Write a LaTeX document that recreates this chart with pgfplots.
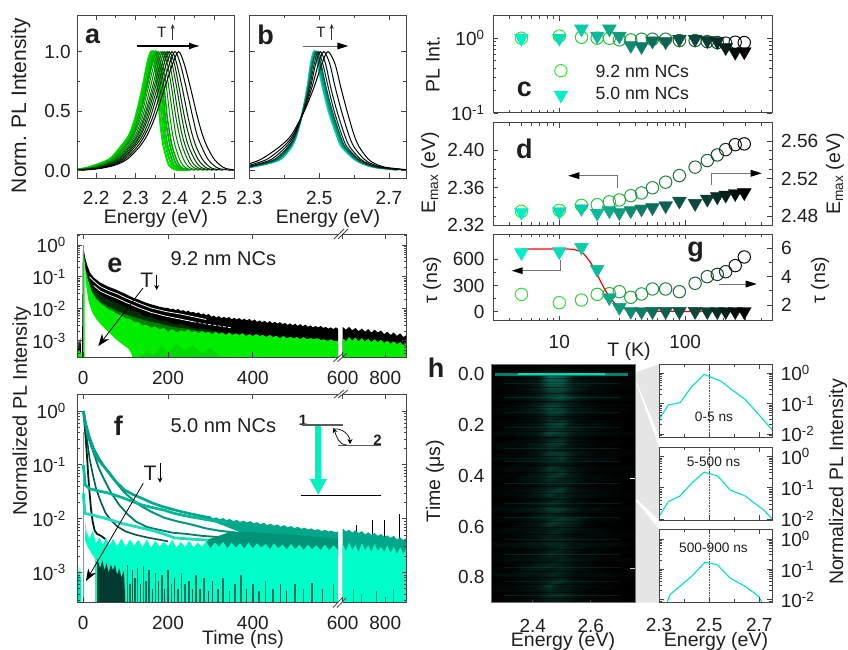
\documentclass[border=0pt]{standalone}
\usepackage{pgfplots}
\usepackage{pgfplotstable}
\usepackage{fontspec}
\setmainfont{Liberation Sans}
\pgfplotsset{compat=1.18}
\usetikzlibrary{arrows.meta}
\newcommand\fs[1]{\fontsize{#1}{#1}\selectfont}
\definecolor{frameC}{HTML}{444444}
\definecolor{txt}{HTML}{1E1E1E}
\definecolor{gA}{HTML}{00DC00}
\definecolor{tA}{HTML}{00D8B0}
\definecolor{aqua}{HTML}{00FFC8}
\definecolor{gk0}{RGB}{50,232,50}\definecolor{gk1}{RGB}{46,222,52}\definecolor{gk2}{RGB}{43,211,55}\definecolor{gk3}{RGB}{40,200,57}
\definecolor{gk4}{RGB}{36,190,60}\definecolor{gk5}{RGB}{35,177,60}\definecolor{gk6}{RGB}{33,165,60}\definecolor{gk7}{RGB}{32,152,60}
\definecolor{gk8}{RGB}{30,140,60}\definecolor{gk9}{RGB}{29,128,57}\definecolor{gk10}{RGB}{27,115,55}\definecolor{gk11}{RGB}{26,102,52}
\definecolor{gk12}{RGB}{25,90,50}\definecolor{gk13}{RGB}{19,68,38}\definecolor{gk14}{RGB}{13,45,25}\definecolor{gk15}{RGB}{6,22,12}\definecolor{gk16}{RGB}{0,0,0}
\definecolor{tk0}{RGB}{0,240,200}\definecolor{tk1}{RGB}{4,222,184}\definecolor{tk2}{RGB}{7,205,168}\definecolor{tk3}{RGB}{11,187,151}
\definecolor{tk4}{RGB}{15,170,135}\definecolor{tk5}{RGB}{15,155,124}\definecolor{tk6}{RGB}{15,140,112}\definecolor{tk7}{RGB}{15,125,101}
\definecolor{tk8}{RGB}{15,110,90}\definecolor{tk9}{RGB}{14,97,80}\definecolor{tk10}{RGB}{12,85,70}\definecolor{tk11}{RGB}{11,72,60}
\definecolor{tk12}{RGB}{10,60,50}\definecolor{tk13}{RGB}{8,45,38}\definecolor{tk14}{RGB}{5,30,25}\definecolor{tk15}{RGB}{3,15,12}\definecolor{tk16}{RGB}{0,0,0}
\newcommand\ee[1]{10\textsuperscript{#1}}
\pgfplotsset{
 baseAx/.style={scale only axis, anchor=south west,
  axis line style={color=frameC,line width=1pt},
  every tick/.style={color=frameC,line width=.8pt},
  major tick length=5pt, minor tick length=3pt, tick align=inside,
  tick label style={font=\fs{19},text=txt},
  xticklabel style={yshift=-10pt}, yticklabel style={xshift=-3pt},
  axis on top},
 tempAx/.style={xmin=3,xmax=490,xtick={10,100},
  minor xtick={4,5,6,7,8,9,20,30,40,50,60,70,80,90,200,300,400},xticklabels={}},
 decayAx/.style={ytick={1,.1,.01,.001},log origin y=infty,
  minor ytick={.0003,.0004,.0005,.0006,.0007,.0008,.0009,.002,.003,.004,.005,.006,.007,.008,.009,.02,.03,.04,.05,.06,.07,.08,.09,.2,.3,.4,.5,.6,.7,.8,.9,2}},
 insetAx/.style={baseAx,xmin=2.3,xmax=2.752,xtick={2.3,2.5,2.7},minor xtick={2.4,2.6},
  ytick={1,.1,.01},yticklabels={\ee{0},\ee{-1},\ee{-2}},
  minor ytick={.008,.009,.02,.03,.04,.05,.06,.07,.08,.09,.2,.3,.4,.5,.6,.7,.8,.9,2},
  yticklabel pos=right,yticklabel style={xshift=8pt},
  width=113.3pt,height=73pt},
 colormap={hm}{rgb255=(0,0,0) rgb255=(2,14,12) rgb255=(4,30,25) rgb255=(8,70,56) rgb255=(12,115,92)},
}
\pgfplotstableread{
T i cI cE cTau tI tE tTau
5 0 1 2.335 2.75 1 2.484 676
10 1 1.07 2.336 2.16 1 2.4846 688
15 2 1.03 2.3413 2.35 1.33 2.488 737
20 3 1 2.342 2.75 1.07 2.483 485
25 4 1 2.345 2.8 1.33 2.4857 160
30 5 .95 2.347 2.94 1.07 2.4836 50
37 6 .95 2.3516 2.54 .8 2.4857 5
45 7 .97 2.3545 2.78 .775 2.4875 2
55 8 .97 2.36 3.13 .92 2.489 3
70 9 .97 2.366 3.13 .9 2.491 3
90 10 .93 2.373 2.94 .97 2.496 3
120 11 .93 2.382 3.53 .97 2.4935 3
150 12 .9 2.389 4 .93 2.498 2
180 13 .875 2.395 4.16 .9 2.5006 2
210 14 .86 2.4007 4.35 .75 2.5024 2
250 15 .885 2.406 4.78 .65 2.504 2
295 16 .875 2.4068 5.39 .66 2.505 2
}\tData
\pgfplotstableread{
y c1 c2 c3 c4 c5 c6 c7 c8 c9 c10 c11 c12 c13 c14
.005 2.130 2.132 2.133 2.135 2.136 2.138 2.141 2.143 2.145 2.147 2.150 2.153 2.156 2.160
.02 2.170 2.172 2.174 2.176 2.178 2.181 2.184 2.187 2.190 2.193 2.196 2.200 2.205 2.210
.05 2.200 2.203 2.205 2.208 2.210 2.214 2.218 2.222 2.225 2.229 2.233 2.238 2.244 2.250
.10 2.235 2.237 2.240 2.242 2.244 2.247 2.251 2.254 2.258 2.261 2.265 2.269 2.274 2.280
.20 2.262 2.264 2.267 2.269 2.272 2.275 2.279 2.283 2.286 2.290 2.294 2.298 2.304 2.310
.30 2.284 2.286 2.289 2.291 2.293 2.296 2.300 2.304 2.307 2.311 2.314 2.319 2.324 2.330
.45 2.300 2.303 2.305 2.308 2.310 2.314 2.318 2.322 2.325 2.329 2.333 2.338 2.344 2.350
.70 2.318 2.321 2.324 2.327 2.329 2.333 2.338 2.343 2.347 2.351 2.356 2.361 2.368 2.375
.90 2.330 2.333 2.337 2.340 2.343 2.348 2.353 2.358 2.363 2.368 2.373 2.379 2.387 2.395
1.0 2.340 2.344 2.347 2.351 2.354 2.359 2.365 2.370 2.375 2.381 2.386 2.393 2.401 2.410
.90 2.349 2.353 2.357 2.360 2.364 2.369 2.375 2.381 2.387 2.393 2.399 2.405 2.414 2.424
.70 2.356 2.360 2.364 2.369 2.373 2.379 2.385 2.392 2.398 2.405 2.411 2.419 2.429 2.440
.45 2.362 2.367 2.372 2.376 2.381 2.388 2.396 2.403 2.410 2.418 2.425 2.434 2.446 2.458
.30 2.367 2.372 2.377 2.383 2.388 2.395 2.403 2.412 2.419 2.427 2.436 2.445 2.457 2.471
.20 2.372 2.378 2.383 2.389 2.394 2.402 2.411 2.420 2.428 2.436 2.445 2.455 2.469 2.483
.10 2.380 2.386 2.392 2.398 2.404 2.412 2.422 2.432 2.440 2.450 2.459 2.470 2.484 2.500
.05 2.385 2.392 2.398 2.405 2.411 2.420 2.431 2.441 2.450 2.460 2.471 2.483 2.498 2.515
.02 2.395 2.402 2.409 2.415 2.422 2.431 2.442 2.453 2.463 2.473 2.484 2.496 2.512 2.530
.005 2.410 2.418 2.425 2.433 2.440 2.451 2.463 2.475 2.485 2.497 2.509 2.523 2.541 2.560
}\tA
\pgfplotstableread{
y c1 c2 c3 c4 c5 c6 c7 c8 c9
.01 2.270 2.269 2.267 2.266 2.264 2.261 2.257 2.249 2.240
.03 2.300 2.299 2.297 2.296 2.294 2.291 2.287 2.279 2.270
.06 2.350 2.348 2.345 2.343 2.340 2.335 2.328 2.315 2.300
.1 2.390 2.387 2.385 2.382 2.379 2.374 2.365 2.352 2.335
.2 2.420 2.418 2.417 2.415 2.413 2.410 2.404 2.396 2.385
.3 2.435 2.434 2.434 2.433 2.432 2.431 2.428 2.425 2.420
.5 2.453 2.453 2.453 2.454 2.454 2.454 2.455 2.456 2.457
.7 2.466 2.467 2.468 2.469 2.470 2.472 2.475 2.479 2.485
.9 2.476 2.478 2.479 2.481 2.482 2.486 2.490 2.498 2.508
1 2.485 2.487 2.489 2.491 2.493 2.497 2.503 2.513 2.525
.9 2.495 2.498 2.500 2.503 2.505 2.510 2.518 2.530 2.545
.7 2.510 2.513 2.515 2.518 2.520 2.526 2.533 2.546 2.562
.5 2.527 2.530 2.532 2.535 2.538 2.543 2.551 2.564 2.580
.3 2.550 2.553 2.555 2.558 2.560 2.565 2.573 2.585 2.600
.2 2.565 2.568 2.570 2.573 2.575 2.580 2.588 2.600 2.615
.1 2.600 2.602 2.604 2.606 2.608 2.612 2.618 2.628 2.640
.06 2.625 2.627 2.629 2.630 2.632 2.636 2.641 2.650 2.660
.03 2.660 2.662 2.663 2.665 2.666 2.669 2.674 2.681 2.690
.01 2.720 2.722 2.723 2.725 2.726 2.729 2.734 2.741 2.750
}\tB
\newcommand\cva[3]{\addplot[smooth,line width=#3pt,color=gA!#2!black] table[x=c#1,y=y]{\tA};}
\newcommand\cvb[3]{\addplot[smooth,line width=#3pt,color=tA!#2!black] table[x=c#1,y=y]{\tB};}
\newcommand\flab[3]{\node[font=\fs{#3},text=txt] at (#1,#2)}
\newcommand\circs[1]{\pgfplotsinvokeforeach{0,...,16}{\addplot[only marks,mark=o,mark size=6.2pt,line width=1pt,color=gk##1,restrict expr to domain={\thisrow{i}}{##1:##1}] table[x=T,y=#1]{\tData};}}
\newcommand\tris[1]{\pgfplotsinvokeforeach{0,...,16}{\addplot[only marks,mark=triangle*,mark size=8pt,mark options={rotate=180},color=tk##1,restrict expr to domain={\thisrow{i}}{##1:##1}] table[x=T,y=#1]{\tData};}}
\begin{document}
\begin{tikzpicture}[x=1pt,y=-1pt]
\useasboundingbox (0,0) rectangle (848,650);
% connectors
\fill[black!10] (635.7,372.3)--(659,364.3)--(659,436)--(635.7,380)--cycle;
\fill[black!10] (635.7,382)--(659,447)--(659,520)--(635.7,498)--cycle;
\fill[black!10] (635.7,501)--(659,529)--(659,602.7)--(635.7,602.7)--cycle;
% a
\begin{axis}[baseAx,at={(77.3pt,-178pt)},width=156.7pt,height=162.5pt,xmin=2.152,xmax=2.551,ymin=-.06,ymax=1.303,
 xtick={2.2,2.3,2.4,2.5},xticklabels={2.2,2.3,2.4,2.5},minor x tick num=1,
 ytick={0,.5,1},yticklabels={0.0,0.5,1.0},minor y tick num=1]
\cva{1}{100}{2}\cva{2}{95}{2}\cva{3}{90}{2}\cva{4}{82}{1.8}\cva{5}{74}{1.5}\cva{6}{64}{1}\cva{7}{55}{1}
\cva{8}{47}{1}\cva{9}{40}{1}\cva{10}{32}{1}\cva{11}{25}{1}\cva{12}{15}{1}\cva{13}{8}{1}\cva{14}{0}{1}
\end{axis}
% b
\begin{axis}[baseAx,at={(249.5pt,-178pt)},width=156.5pt,height=162.5pt,xmin=2.3,xmax=2.749,ymin=-.06,ymax=1.303,
 xtick={2.3,2.5,2.7},xticklabels={2.3,2.5,2.7},minor x tick num=1,
 ytick={0,.5,1},yticklabels={},minor y tick num=1]
\cvb{1}{100}{2}\cvb{2}{85}{1.6}\cvb{3}{70}{1.4}\cvb{4}{55}{1.2}\cvb{5}{40}{1}\cvb{6}{20}{1}\cvb{7}{10}{1}\cvb{8}{5}{1}\cvb{9}{0}{1}
\end{axis}
% c
\begin{axis}[baseAx,xmode=log,tempAx,at={(493.5pt,-113pt)},width=278.5pt,height=97.3pt,ymode=log,ymin=.1,ymax=2,
 yticklabel style={xshift=-2.5pt},
 ytick={.1,1},yticklabels={\ee{-1},\ee{0}},minor ytick={.2,.3,.4,.5,.6,.7,.8,.9,2}]
\circs{cI}
\tris{tI}
\addplot[only marks,mark=o,mark size=6.2pt,line width=1pt,color=gk0] coordinates {(10.3,.368)};
\addplot[only marks,mark=triangle*,mark size=8pt,mark options={rotate=180},color=tk0] coordinates {(10.3,.174)};
\end{axis}
% d
\begin{axis}[baseAx,xmode=log,tempAx,at={(493.5pt,-225.3pt)},width=278.5pt,height=102.6pt,ymin=2.32,ymax=2.4294,
 yticklabel style={xshift=-2.5pt},
 ytick={2.32,2.36,2.40},yticklabels={2.32,2.36,2.40},minor y tick num=3,ytick pos=left]
\circs{cE}
\end{axis}
\begin{axis}[baseAx,xmode=log,tempAx,at={(493.5pt,-225.3pt)},width=278.5pt,height=102.6pt,ymin=2.4701,ymax=2.5795,
 ytick={2.48,2.52,2.56},yticklabels={2.48,2.52,2.56},minor y tick num=3,ytick pos=right,yticklabel pos=right,yticklabel style={xshift=8.7pt}]
\tris{tE}
\end{axis}
% g
\begin{axis}[baseAx,xmode=log,tempAx,at={(493.5pt,-320.7pt)},width=278.5pt,height=86.4pt,ymin=.89,ymax=6.99,
 xtick={10,100},xticklabels={10,100},xticklabel style={yshift=-1pt},
 ytick={2,4,6},yticklabels={2,4,6},minor y tick num=1,ytick pos=right,yticklabel pos=right,yticklabel style={xshift=8.7pt}]
\circs{cTau}
\end{axis}
\begin{axis}[baseAx,xmode=log,tempAx,at={(493.5pt,-320.7pt)},width=278.5pt,height=86.4pt,ymin=-103,ymax=886,
 yticklabel style={xshift=-2.5pt},
 ytick={0,300,600},yticklabels={0,300,600},minor y tick num=1,ytick pos=left]
\tris{tTau}
\addplot[smooth,color=red,line width=1.2pt] coordinates {(5,718)(10,718)(13,712)(15.5,668)(18.6,515)(21,363)(24,210)(28.6,76)(36,19)(50,8)(100,3)(295,0)};
\end{axis}
% e left
\begin{axis}[baseAx,ymode=log,decayAx,at={(77.3pt,-357.3pt)},width=260.7pt,height=123pt,xmin=-14,xmax=601,ymin=3e-4,ymax=2.16,
 axis y line*=left,xtick={0,200,400},xticklabels={0,200,400},yticklabel style={xshift=-5pt},
 yticklabels={\ee{0},\ee{-1},\ee{-2},\ee{-3}}]
\addplot[fill=black,draw=none] coordinates {(-3,2e-4)(-1,.5)(0,1)(2,.62)(5,.38)(10,.22)(16,.135)(25,.095)(40,.066)(60,.049)(79,.039)(100,.029)(115,.023)(130,.0195)(145,.016)(160,.0138)(178,.0118)(190,.0108)(200,.0106)(206,.0096)(212,.0101)(218,.009)(224,.0098)(230,.0086)(236,.009)(242,.008)(248,.0087)(254,.0076)(260,.008)(266,.0071)(272,.0077)(278,.0066)(284,.0071)(290,.0063)(296,.0068)(302,.0056)(308,.0061)(314,.0053)(320,.0059)(326,.0051)(332,.0056)(338,.005)(344,.0055)(350,.0047)(356,.0052)(362,.0046)(368,.0051)(374,.0044)(380,.0049)(386,.0043)(392,.0048)(398,.0041)(404,.0046)(410,.0039)(416,.0043)(422,.0038)(428,.0042)(434,.0036)(440,.0041)(446,.0035)(452,.0039)(458,.0034)(464,.0038)(470,.0033)(476,.0036)(482,.0031)(488,.0035)(494,.003)(500,.0034)(506,.0029)(512,.0033)(518,.0028)(524,.0032)(530,.0027)(536,.003)(542,.0026)(548,.0029)(554,.0026)(560,.0029)(566,.0025)(572,.0027)(578,.0024)(584,.0026)(590,.0023)(596,.0026)(602,.0023)(602,2e-4)};
\addplot[white,line width=.8pt] coordinates {(15,.1)(25,.073)(40,.05)(60,.037)(79,.03)(100,.022)(130,.015)(160,.0106)(196,.0081)(230,.0068)(260,.0056)(290,.0046)};
\addplot[white,line width=.8pt] coordinates {(25,.053)(40,.036)(60,.027)(79,.0215)(100,.016)(130,.0108)(160,.0077)(196,.0058)(230,.0047)(260,.0039)};
\addplot[white,line width=.7pt,densely dashed] coordinates {(260,.0039)(290,.0033)(320,.0029)(350,.0025)};
\addplot[fill=black!70!green!60!black,draw=none] coordinates {(2,2e-4)(5,.2)(10,.11)(20,.055)(40,.027)(60,.019)(79,.015)(100,.011)(115,.0085)(130,.0078)(145,.0058)(160,.0056)(178,.0043)(196,.0042)(215,.0032)(230,.0034)(260,.0025)(300,.0022)(340,.0016)(340,2e-4)};
\addplot[fill=green!50!black,draw=none] coordinates {(2,2e-4)(5,.12)(10,.07)(20,.035)(40,.016)(60,.0115)(80,.0085)(100,.0067)(125,.0052)(150,.0042)(180,.0034)(210,.0027)(240,.0024)(270,.002)(300,.0018)(340,.0015)(340,2e-4)};
\addplot[fill=green!93!black,draw=none] coordinates {(2,2e-4)(2,.5)(5,.18)(10,.09)(20,.034)(30,.02)(40,.015)(50,.012)(60,.0095)(70,.0085)(80,.0068)(90,.0062)(100,.005)(110,.0048)(120,.0039)(130,.0038)(140,.003)(150,.0031)(160,.0025)(170,.0028)(180,.0022)(190,.0025)(200,.0019)(210,.0023)(220,.0018)(230,.0021)(240,.0019)(248,.0022)(256,.0018)(264,.002)(272,.0017)(280,.002)(288,.0017)(296,.0019)(304,.0016)(312,.0019)(320,.0016)(328,.0018)(336,.0015)(344,.0018)(352,.0015)(360,.0017)(368,.0015)(376,.0017)(384,.0014)(392,.0016)(400,.0014)(408,.0016)(416,.0014)(424,.0015)(432,.0013)(440,.0015)(448,.0013)(456,.0014)(464,.0012)(472,.0014)(480,.0012)(488,.0013)(496,.0012)(504,.0013)(512,.0011)(520,.0013)(528,.0011)(536,.0012)(544,.0011)(552,.0012)(560,.00105)(568,.0011)(576,.00098)(584,.0011)(592,.00095)(602,.001)(602,2e-4)};
\addplot[fill=green!85!black,draw=none] coordinates {(120,2e-4)(150,5e-4)(165,3.5e-4)(185,7e-4)(200,4e-4)(220,8e-4)(240,5e-4)(260,7e-4)(280,4e-4)(300,6e-4)(320,3.5e-4)(340,2e-4)};
\addplot[fill=white,draw=none] coordinates {(3,2e-4)(3.5,.3)(5.6,.07)(12,.018)(20,.008)(30,.0048)(43,.003)(60,.0018)(75,.00115)(90,.0008)(106,.00056)(113,.0004)(120,2e-4)};
\addplot[green!93!black,line width=1.4pt] coordinates {(.5,2e-4)(.5,.95)};
\addplot[fill=black,draw=none] coordinates {(-14,2e-4)(-12,.0006)(-10,.0011)(-8,.0008)(-7,.0012)(-5,.0006)(-4,2e-4)};
\addplot[fill=green!93!black,draw=none] coordinates {(-14,2e-4)(-12,4.5e-4)(-9,5e-4)(-6,4e-4)(-4,2e-4)};
\end{axis}
% e right
\begin{axis}[baseAx,ymode=log,decayAx,at={(342.7pt,-357.3pt)},width=63.8pt,height=123pt,xmin=600,xmax=900,ymin=3e-4,ymax=2.16,
 axis y line*=right,xtick={600,800},xticklabels={600,800},yticklabels={}]
\addplot[fill=black,draw=none] coordinates {(600,2e-4)(600,.0027)(615,.0022)(630,.0027)(645,.0021)(660,.0025)(675,.002)(690,.0024)(705,.0019)(720,.0023)(735,.0018)(750,.0022)(765,.0018)(780,.0021)(795,.0016)(810,.0019)(825,.0015)(840,.0018)(855,.0014)(870,.0017)(885,.0013)(900,.0015)(900,2e-4)};
\addplot[fill=green!93!black,draw=none] coordinates {(600,2e-4)(600,.0012)(615,.00095)(630,.0013)(645,.001)(660,.00125)(675,.00095)(690,.0012)(705,.00095)(720,.00115)(735,.0009)(750,.0011)(765,.0009)(780,.00105)(795,.00085)(810,.001)(825,.0008)(840,.00095)(855,.00078)(870,.0009)(885,.00072)(900,.00085)(900,2e-4)};
\end{axis}
% f left
\begin{axis}[baseAx,ymode=log,decayAx,at={(77.3pt,-602.3pt)},width=260.7pt,height=208.3pt,xmin=-14,xmax=601,ymin=2.8e-4,ymax=2.07,
 axis y line*=left,xtick={0,200,400},xticklabels={0,200,400},yticklabel style={xshift=-5pt},
 yticklabels={\ee{0},\ee{-1},\ee{-2},\ee{-3}}]
\addplot[color=black!85!tA,line width=1.8pt] coordinates {(0,1)(3,.6)(6,.3)(9,.14)(12,.06)(15,.03)(18,.016)(22,.009)(27,.006)(33,.0052)(42,.0048)(52,.0042)};
\addplot[color=tA!40!black,line width=1.6pt] coordinates {(1,1)(5,.5)(10,.25)(15,.13)(22,.07)(30,.037)(40,.022)(52,.013)(65,.0095)(80,.0072)(100,.0058)(125,.005)(150,.0045)(170,.0042)(200,.0038)};
\addplot[color=tA!58!black,line width=1.8pt] coordinates {(1,1)(6,.55)(14,.3)(24,.17)(36,.09)(50,.052)(66,.03)(85,.018)(105,.012)(125,.0088)(150,.007)(180,.0062)(210,.0055)(245,.0052)(280,.0048)(330,.0045)};
\addplot[color=tA!70!black,line width=2pt] coordinates {(1,1)(6,.6)(15,.33)(25,.2)(38,.13)(55,.08)(75,.05)(95,.032)(115,.023)(135,.0175)(160,.0135)(190,.0105)(220,.009)(255,.0078)(290,.0066)(320,.006)(360,.0055)};
\addplot[fill=tA!78!black,draw=none] coordinates {(240,.0132)(250,.0127)(258,.0116)(266,.0122)(274,.0111)(282,.0118)(290,.0107)(298,.0113)(306,.0101)(314,.0106)(322,.0097)(330,.0103)(338,.0094)(346,.0099)(354,.009)(362,.0095)(370,.0087)(378,.0092)(386,.0085)(394,.009)(402,.0082)(410,.0086)(418,.0079)(426,.0084)(434,.0076)(442,.0081)(450,.0074)(458,.0078)(466,.0071)(474,.0076)(482,.0069)(490,.0073)(498,.0067)(506,.0071)(514,.0065)(522,.0068)(530,.0063)(538,.0066)(546,.0061)(554,.0064)(562,.0059)(570,.0062)(578,.0058)(586,.006)(594,.0056)(602,.0058)(602,.002)(400,.0045)(330,.0075)(280,.0105)};
\addplot[fill=tA!68!black,draw=none] coordinates {(290,.004)(350,.0058)(400,.0056)(500,.005)(602,.0042)(602,.002)(300,.002)};
\addplot[color=tA!78!black,line width=2.6pt] coordinates {(0,1)(4,.65)(10,.38)(20,.22)(35,.125)(59,.075)(78,.048)(98,.034)(118,.028)(138,.024)(160,.02)(185,.017)(216,.0145)(250,.0125)(295,.0105)};
\addplot[color=tA!85!black,line width=2.8pt] coordinates {(0,.1)(3,.06)(5,.042)(15,.036)(35,.033)(59,.03)(90,.025)(115,.021)(138,.018)(165,.016)(190,.0145)(216,.0125)(250,.011)(295,.0095)(340,.0085)};
\addplot[color=tA!88!white,line width=2.8pt] coordinates {(0,.03)(3,.016)(5,.0125)(25,.0115)(59,.0098)(90,.0082)(115,.0074)(138,.0067)(165,.006)(190,.0052)(216,.0044)(250,.0042)(295,.004)};
\addplot[fill=aqua,draw=none] coordinates {(3,2e-4)(5,.009)(8,.0055)(15,.0042)(22,.006)(30,.0035)(38,.0045)(46,.0033)(54,.0044)(62,.0032)(70,.0042)(80,.0031)(90,.0043)(100,.003)(110,.0041)(120,.0032)(130,.004)(140,.003)(150,.0041)(160,.0029)(170,.0039)(180,.003)(190,.0037)(200,.0031)(210,.004)(220,.0029)(230,.0037)(240,.003)(250,.0039)(260,.0029)(270,.0036)(280,.003)(290,.0038)(300,.0028)(310,.0036)(320,.003)(330,.0037)(340,.0028)(350,.0036)(360,.0029)(370,.0035)(380,.0028)(390,.0036)(400,.0028)(410,.0035)(420,.0029)(430,.0034)(440,.0027)(450,.0035)(460,.0028)(470,.0033)(480,.0027)(490,.0034)(500,.0027)(510,.0033)(520,.0026)(530,.0033)(540,.0027)(550,.0032)(560,.0026)(570,.0033)(580,.0026)(590,.0032)(602,.0026)(602,2e-4)};
\addplot[fill=white,draw=none] coordinates {(3.5,2e-4)(3.5,.004)(10,.003)(20,.0022)(28,.0018)(28,2e-4)};
\addplot[color=aqua!85!black,line width=1.4pt] coordinates {(.5,2e-4)(.5,.4)};
\addplot[color=aqua,line width=1pt] coordinates {(30,.0018)(30,2e-4)};
\addplot[fill=aqua!90!black,draw=none] coordinates {(-14,2e-4)(-12,.0008)(-10,.0014)(-8,.0009)(-7,.0012)(-5,.0006)(-4,2e-4)};
\addplot[fill=tA!27!black,draw=none] coordinates {(33,2e-4)(33,.0018)(40,.0012)(45,.0017)(50,.0011)(55,.0015)(60,.001)(65,.0014)(70,.0011)(75,.0014)(80,.0009)(85,.0012)(90,.0008)(96,.0011)(100,2e-4)};
\addplot[ycomb,color=tA!50!black,line width=1.5pt] coordinates {(104,.0014)(110,.0006)(116,.0011)(122,.0008)(128,.0012)(135,.0006)(142,.0013)(148,.0007)(155,.0011)(163,.0005)(170,.001)(178,.0007)(186,.0009)(192,.0005)(200,.0011)(208,.0006)(215,.0008)(224,.0005)(232,.001)(240,.0006)(250,.0007)(258,.0005)(266,.0009)(275,.0005)(285,.0008)(295,.00045)(305,.0007)(318,.0005)(330,.0008)(345,.00045)(358,.0006)(372,.0009)(385,.0005)(400,.0006)(415,.00045)(430,.0007)(448,.0005)(465,.0006)(480,.00045)(500,.0006)(520,.0005)(540,.00065)(565,.0005)(590,.0006)};
\end{axis}
% f right
\begin{axis}[baseAx,ymode=log,decayAx,at={(342.7pt,-602.3pt)},width=63.8pt,height=208.3pt,xmin=600,xmax=900,ymin=2.8e-4,ymax=2.07,
 axis y line*=right,xtick={600,800},xticklabels={600,800},yticklabels={}]
\addplot[ycomb,color=black,line width=1pt] coordinates {(663,.0075)(742,.0095)(797,.0095)(868,.012)};
\addplot[fill=tA!78!black,draw=none] coordinates {(600,2e-4)(600,.0066)(615,.0058)(630,.0062)(645,.0055)(660,.0061)(675,.0054)(690,.0059)(705,.0051)(720,.0056)(735,.005)(750,.0054)(765,.0048)(780,.0052)(795,.0046)(810,.0049)(825,.0044)(840,.0048)(855,.0041)(870,.0045)(885,.004)(900,.0044)(900,2e-4)};
\addplot[fill=aqua,draw=none] coordinates {(600,2e-4)(600,.0034)(615,.0025)(630,.0036)(645,.0026)(660,.0033)(675,.0024)(690,.0035)(705,.0026)(720,.0032)(735,.0024)(750,.0034)(765,.0025)(780,.003)(795,.0024)(810,.0032)(825,.0023)(840,.003)(855,.0022)(870,.0029)(885,.0022)(900,.0028)(900,2e-4)};
\addplot[ycomb,color=aqua!65!black,line width=1pt] coordinates {(650,.0005)(690,.0004)(760,.00045)(840,.0005)};
\end{axis}
% h
\begin{axis}[baseAx,at={(491pt,-602.7pt)},width=144.7pt,height=238.4pt,xmin=2.256,xmax=2.755,ymin=-.04,ymax=.9,y dir=reverse,
 axis background/.style={fill=black},axis line style={color=black!55,line width=1pt},
 xtick={2.4,2.6},xticklabels={2.4,2.6},ytick={0,.2,.4,.6,.8},yticklabels={0.0,0.2,0.4,0.6,0.8},
 xticklabel style={yshift=-2.7pt},
 major tick length=3pt,ytick style={draw=none},xtick pos=bottom]
\addplot[surf,shader=interp,mesh/cols=13,colormap name=hm,point meta=\thisrow{v},point meta min=0,point meta max=9]
 table[row sep=\\,x expr={2.23+.045*mod(\coordindex,13)},y expr={-.05+.02*floor(\coordindex/13)}] {
v\\
0\\0\\0\\0\\0\\0\\0\\0\\0\\0\\0\\0\\0\\
0\\0\\0\\0\\0\\1\\1\\0\\0\\0\\0\\0\\0\\
1\\1\\1\\1\\2\\3\\3\\2\\1\\1\\1\\1\\1\\
1\\1\\2\\2\\3\\9\\8\\4\\2\\2\\1\\1\\1\\
1\\1\\1\\2\\3\\7\\7\\3\\2\\1\\1\\1\\0\\
0\\1\\1\\2\\4\\7\\7\\5\\3\\2\\1\\1\\0\\
0\\0\\1\\1\\3\\6\\6\\3\\1\\1\\0\\0\\0\\
1\\1\\2\\3\\4\\6\\7\\5\\3\\2\\2\\1\\1\\
0\\0\\0\\1\\3\\5\\5\\3\\1\\0\\0\\0\\0\\
1\\1\\2\\3\\5\\7\\6\\4\\3\\2\\1\\1\\0\\
0\\1\\1\\2\\3\\6\\6\\3\\2\\1\\1\\0\\0\\
0\\0\\0\\1\\2\\5\\4\\2\\1\\0\\0\\0\\0\\
1\\1\\1\\2\\3\\6\\7\\3\\2\\2\\1\\0\\0\\
0\\0\\1\\2\\3\\5\\5\\4\\2\\1\\0\\0\\0\\
1\\2\\2\\3\\4\\7\\6\\4\\3\\2\\2\\1\\1\\
0\\0\\0\\1\\2\\4\\5\\2\\1\\0\\0\\0\\0\\
0\\1\\2\\2\\4\\6\\6\\3\\2\\1\\1\\0\\0\\
1\\1\\1\\2\\3\\5\\4\\2\\1\\1\\0\\0\\0\\
0\\0\\1\\1\\3\\6\\6\\4\\2\\1\\1\\1\\0\\
1\\2\\2\\3\\4\\5\\6\\3\\2\\2\\1\\0\\0\\
0\\0\\0\\1\\2\\4\\4\\2\\1\\0\\0\\0\\0\\
1\\1\\2\\2\\3\\6\\5\\3\\2\\1\\1\\1\\0\\
0\\0\\1\\1\\3\\5\\6\\3\\1\\1\\0\\0\\0\\
1\\1\\1\\3\\4\\6\\5\\4\\2\\2\\1\\0\\0\\
0\\0\\0\\1\\2\\4\\4\\2\\1\\0\\0\\0\\0\\
0\\1\\1\\2\\3\\5\\6\\3\\2\\1\\1\\0\\0\\
1\\1\\2\\2\\4\\6\\5\\3\\3\\2\\1\\1\\0\\
0\\0\\0\\1\\2\\4\\5\\2\\1\\0\\0\\0\\0\\
0\\1\\1\\2\\3\\5\\4\\2\\1\\1\\0\\0\\0\\
1\\2\\2\\3\\4\\6\\6\\4\\2\\2\\1\\1\\0\\
0\\0\\1\\1\\3\\5\\4\\2\\1\\0\\0\\0\\0\\
1\\1\\1\\2\\4\\5\\6\\5\\2\\1\\1\\0\\0\\
0\\0\\0\\2\\3\\6\\5\\4\\1\\0\\0\\0\\0\\
0\\1\\2\\2\\3\\4\\5\\3\\2\\1\\0\\0\\0\\
1\\1\\1\\2\\3\\5\\4\\2\\2\\2\\1\\1\\1\\
0\\0\\0\\1\\2\\4\\4\\2\\1\\0\\0\\0\\0\\
1\\2\\2\\3\\4\\5\\5\\3\\3\\2\\2\\1\\0\\
0\\0\\1\\1\\2\\4\\5\\3\\1\\1\\0\\0\\0\\
0\\1\\1\\2\\3\\5\\4\\2\\2\\1\\1\\0\\0\\
1\\1\\2\\2\\3\\4\\5\\3\\2\\1\\1\\1\\0\\
0\\0\\0\\2\\4\\5\\4\\2\\1\\0\\0\\0\\0\\
0\\1\\1\\3\\4\\4\\5\\3\\2\\1\\0\\0\\0\\
1\\2\\2\\3\\3\\5\\4\\2\\2\\2\\1\\1\\0\\
0\\0\\0\\1\\2\\4\\5\\2\\1\\0\\0\\0\\0\\
1\\1\\1\\2\\3\\6\\4\\3\\2\\1\\1\\0\\0\\
0\\1\\1\\2\\3\\5\\4\\2\\1\\1\\0\\0\\0\\
0\\0\\1\\1\\2\\5\\5\\3\\1\\0\\0\\0\\0\\
1\\1\\1\\2\\3\\4\\4\\2\\2\\1\\1\\0\\0\\
0\\0\\0\\1\\2\\4\\3\\2\\1\\0\\0\\0\\0\\
};
\addplot[black,opacity=.5,line width=1pt,unbounded coords=jump] coordinates {(2.25,.015)(2.76,.015)(2.25,nan)(2.25,.05)(2.76,.05)(2.25,nan)(2.25,.075)(2.76,.075)(2.25,nan)(2.25,.105)(2.76,.105)(2.25,nan)(2.25,.13)(2.76,.13)(2.25,nan)(2.25,.165)(2.76,.165)(2.25,nan)(2.25,.19)(2.76,.19)(2.25,nan)(2.25,.225)(2.76,.225)(2.25,nan)(2.25,.25)(2.76,.25)(2.25,nan)(2.25,.27)(2.76,.27)(2.25,nan)(2.25,.3)(2.76,.3)(2.25,nan)(2.25,.325)(2.76,.325)(2.25,nan)(2.25,.36)(2.76,.36)(2.25,nan)(2.25,.385)(2.76,.385)(2.25,nan)(2.25,.41)(2.76,.41)(2.25,nan)(2.25,.44)(2.76,.44)(2.25,nan)(2.25,.47)(2.76,.47)(2.25,nan)(2.25,.495)(2.76,.495)(2.25,nan)(2.25,.52)(2.76,.52)(2.25,nan)(2.25,.55)(2.76,.55)(2.25,nan)(2.25,.58)(2.76,.58)(2.25,nan)(2.25,.605)(2.76,.605)(2.25,nan)(2.25,.63)(2.76,.63)(2.25,nan)(2.25,.66)(2.76,.66)(2.25,nan)(2.25,.69)(2.76,.69)(2.25,nan)(2.25,.715)(2.76,.715)(2.25,nan)(2.25,.74)(2.76,.74)(2.25,nan)(2.25,.775)(2.76,.775)(2.25,nan)(2.25,.8)(2.76,.8)(2.25,nan)(2.25,.83)(2.76,.83)(2.25,nan)(2.25,.86)(2.76,.86)(2.25,nan)(2.25,.885)(2.76,.885)};
\addplot[tA,opacity=.12,line width=1pt,unbounded coords=jump] coordinates {(2.3,.035)(2.7,.035)(2.3,nan)(2.3,.09)(2.7,.09)(2.3,nan)(2.3,.15)(2.7,.15)(2.3,nan)(2.3,.21)(2.7,.21)(2.3,nan)(2.3,.29)(2.7,.29)(2.3,nan)(2.3,.345)(2.7,.345)(2.3,nan)(2.3,.43)(2.7,.43)(2.3,nan)(2.3,.51)(2.7,.51)(2.3,nan)(2.3,.565)(2.7,.565)(2.3,nan)(2.3,.65)(2.7,.65)(2.3,nan)(2.3,.71)(2.7,.71)(2.3,nan)(2.3,.76)(2.7,.76)(2.3,nan)(2.3,.815)(2.7,.815)(2.3,nan)(2.3,.87)(2.7,.87)};
\addplot[color=tA!60!black,line width=2.4pt] coordinates {(2.27,0)(2.73,0)};
\addplot[color=tA,line width=2pt] coordinates {(2.35,0)(2.65,0)};
\addplot[color=white,line width=1pt] coordinates {(2.735,.409)(2.752,.409)};
\addplot[color=white!80!black,line width=1pt] coordinates {(2.735,.764)(2.752,.764)};
\end{axis}
% insets
\begin{axis}[insetAx,ymode=log,at={(659pt,-437.3pt)},ymin=.0078,ymax=1.98,xticklabels={}]
\addplot[red,dash pattern=on 1.6pt off 1pt,line width=1pt] coordinates {(2.5,.001)(2.5,10)};
\addplot[color=tA!70!aqua,line width=1.1pt] coordinates {(2.3,.0305)(2.337,.0904)(2.384,.108)(2.43,.363)(2.48,.927)(2.55,.531)(2.583,.32)(2.643,.139)(2.717,.029)(2.752,.0135)};
\end{axis}
\begin{axis}[insetAx,ymode=log,at={(659pt,-520pt)},ymin=.0095,ymax=2,xticklabels={}]
\addplot[red,dash pattern=on 1.6pt off 1pt,line width=1pt] coordinates {(2.5,.001)(2.5,10)};
\addplot[color=tA!70!aqua,line width=1.1pt] coordinates {(2.3,.0122)(2.337,.0366)(2.384,.0556)(2.43,.141)(2.48,.316)(2.533,.242)(2.583,.0863)(2.643,.0556)(2.717,.0199)(2.752,.0102)};
\end{axis}
\begin{axis}[insetAx,ymode=log,at={(659pt,-602.3pt)},ymin=.0083,ymax=2.08,xticklabels={2.3,2.5,2.7},xticklabel style={yshift=-2.7pt}]
\addplot[red,dash pattern=on 1.6pt off 1pt,line width=1pt] coordinates {(2.5,.001)(2.5,10)};
\addplot[color=tA!70!aqua,line width=1.1pt] coordinates {(2.333,.0086)(2.344,.0149)(2.43,.0591)(2.484,.174)(2.533,.142)(2.583,.0521)(2.643,.0279)(2.697,.0132)(2.71,.0086)};
\end{axis}
% break marks
\draw[frameC,line width=.8pt] (334,239)--(344,229) (338,239)--(348,229) (333.5,361.7)--(342.7,353.3) (337.5,361.7)--(346.7,353.3)
 (334,398)--(344,390) (338,398)--(348,390) (333,607.5)--(342,598) (337,607.5)--(346,598);
% panel letters
\node[font=\fs{27}\bfseries,text=txt] at (92.7,36) {a};
\node[font=\fs{27}\bfseries,text=txt] at (265.7,35) {b};
\node[font=\fs{27}\bfseries,text=txt] at (524.3,89) {c};
\node[font=\fs{27}\bfseries,text=txt] at (524.3,149) {d};
\node[font=\fs{27}\bfseries,text=txt] at (695.7,252) {g};
\node[font=\fs{27}\bfseries,text=txt] at (115,265) {e};
\node[font=\fs{27}\bfseries,text=txt] at (118.3,426) {f};
\node[font=\fs{27}\bfseries,text=txt] at (436,368) {h};
% axis labels
\node[rotate=90,font=\fs{21},text=txt] at (20.7,105.7) {Norm. PL Intensity};
\flab{156}{218}{19.5} {Energy (eV)};
\flab{328}{218}{19.5} {Energy (eV)};
\node[rotate=90,font=\fs{19.8},text=txt] at (21.7,411) {Normalized PL Intensity};
\flab{243}{639}{19.5} {Time (ns)};
\node[rotate=90,font=\fs{19.5},text=txt] at (433,64) {PL Int.};
\node[rotate=90,font=\fs{19.5},text=txt] at (430,173) {E\textsubscript{max} (eV)};
\node[rotate=90,font=\fs{19.5},text=txt] at (835,174) {E\textsubscript{max} (eV)};
\node[rotate=90,font=\fs{19.5},text=txt] at (432,280) {τ (ns)};
\node[rotate=90,font=\fs{19.5},text=txt] at (820,280) {τ (ns)};
\flab{629}{351}{19.5} {T (K)};
\node[rotate=90,font=\fs{19.5},text=txt] at (435,481) {Time (μs)};
\flab{563}{641}{19.5} {Energy (eV)};
\flab{716}{641}{19.5} {Energy (eV)};
\node[rotate=90,font=\fs{19.5},text=txt] at (838,482) {Normalized PL Intensity};
% inner texts
\flab{223.3}{259}{20} {9.2 nm NCs};
\flab{223.3}{425.7}{20} {5.0 nm NCs};
\node[font=\fs{17.7},text=txt,anchor=west] at (592,71) {9.2 nm NCs};
\node[font=\fs{17.7},text=txt,anchor=west] at (592,93) {5.0 nm NCs};
\flab{714}{417}{13.7} {0-5 ns};
\flab{713.5}{462}{13.7} {5-500 ns};
\flab{713.5}{548}{13.7} {500-900 ns};
\flab{161.7}{32.3}{15} {T};
\flab{321}{32.3}{15} {T};
\flab{146.7}{280}{21} {T};
\flab{150}{473}{21} {T};
\node[font=\fs{15}\bfseries,text=txt] at (303,420) {1};
\node[font=\fs{15}\bfseries,text=txt] at (377.5,440) {2};
% arrows a b
\draw[-{Stealth[length=5pt,width=4pt]},black!80,line width=.8pt] (172.7,40)--(172.7,24);
\draw[-{Stealth[length=5pt,width=4pt]},black!80,line width=.8pt] (331.7,40)--(331.7,24);
\draw[-{Latex[length=11pt,width=7pt]},black,line width=1.3pt] (136.7,46)--(200,46);
\draw[black!60,line width=.7pt] (303.3,46)--(340,46);
\fill[black] (337.3,42.5)--(348.3,46)--(337.3,49.5)--cycle;
% arrows d g
\draw[black!55,line width=.7pt] (617.7,188.3)--(617.7,175.7)--(575,175.7);
\draw[black!55,line width=.7pt] (711,185)--(711,173.3)--(755,173.3);
\draw[black!55,line width=.7pt] (560,260)--(560,270.7)--(518,270.7);
\draw[black!55,line width=.7pt] (719.3,284)--(750,284);
\fill (568.3,175.7)--(579.3,172.2)--(579.3,179.2)--cycle (761.7,173.3)--(750.7,169.8)--(750.7,176.8)--cycle
 (511.7,270.7)--(522.7,267.2)--(522.7,274.2)--cycle (756.7,284)--(745.7,280.5)--(745.7,287.5)--cycle;
% arrows e f
\draw[-{Stealth[length=5pt,width=5pt]},black,line width=.8pt] (156.7,275)--(156.7,290);
\draw[-{Stealth[length=5pt,width=5pt]},black,line width=.8pt] (160,463)--(160,482.7);
\draw[-{Stealth[length=12pt,width=9pt]},black,line width=.8pt] (143,288)--(98.3,346);
\draw[-{Stealth[length=12pt,width=9pt]},black,line width=.8pt] (143.3,483.3)--(86,581);
% level scheme
\draw[black!65,line width=1.4pt] (301.7,425)--(342.7,425) (338,445.7)--(380.7,445.7);
\draw[black,line width=1pt] (301,495.3)--(380.7,495.3);
\draw[-{Triangle[length=16pt,width=16pt]},aqua!95!black,line width=6pt] (318.3,425.7)--(318.3,495);
\draw[-{Stealth[length=5pt,width=5pt]},black,line width=.7pt] (333.5,429) to[out=10,in=90] (350,444);
\draw[-{Stealth[length=5pt,width=5pt]},black,line width=.7pt] (347,445) to[out=180,in=-70] (333.5,428);
\end{tikzpicture}
\end{document}
